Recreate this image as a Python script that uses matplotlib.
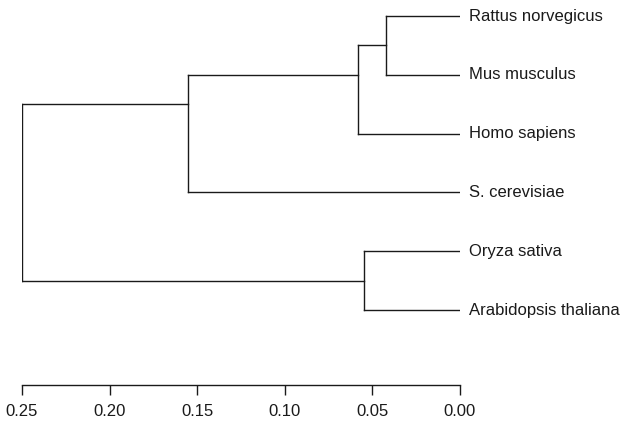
import matplotlib
matplotlib.use("Agg")
import matplotlib.pyplot as plt

# Data
leaves = ["Rattus norvegicus", "Mus musculus", "Homo sapiens",
          "S. cerevisiae", "Oryza sativa", "Arabidopsis thaliana"]
# merges: (child_a, child_b, height); leaves are 0..5, internal nodes numbered from 6
merge_a = [0, 6, 7, 4, 8]
merge_b = [1, 2, 3, 5, 9]
merge_h = [0.0422, 0.0582, 0.1554, 0.0548, 0.25]
xticks = [0.25, 0.20, 0.15, 0.10, 0.05, 0.00]
xtick_labels = ["0.25", "0.20", "0.15", "0.10", "0.05", "0.00"]

plt.rcParams['font.family'] = ['Liberation Sans', 'DejaVu Sans']

W, H = 634, 429
fig = plt.figure(figsize=(W / 100, H / 100), dpi=100)
ax_left = 22 / W
ax_right = 460 / W
ax_bottom = (H - 385) / H
ax_top = 1.0
ax = fig.add_axes([ax_left, ax_bottom, ax_right - ax_left, ax_top - ax_bottom])

col = '#1a1a1a'
lw = 1.0

# positions
xpos = {}
ypos = {}
tips = {}
for i, name in enumerate(leaves):
    xpos[i] = 0.0
    ypos[i] = i + 1
    tips[i] = [i + 1]

n = len(leaves)
for k, (a, b, h) in enumerate(zip(merge_a, merge_b, merge_h)):
    node = n + k
    tips[node] = tips[a] + tips[b]
    xpos[node] = h
    ypos[node] = sum(tips[node]) / len(tips[node])
    # vertical connector
    ax.plot([h, h], [ypos[a], ypos[b]], color=col, lw=lw, solid_capstyle='projecting')
    # horizontal branches
    for c in (a, b):
        ax.plot([xpos[c], h], [ypos[c], ypos[c]], color=col, lw=lw, solid_capstyle='projecting')

for i, name in enumerate(leaves):
    ax.annotate(name, xy=(0.0, i + 1), xytext=(6.5, 0), textcoords='offset points',
                ha='left', va='center', fontsize=12, color=col, annotation_clip=False)

sp = 58.8
y_top = 1 - 16 / sp
y_bot = 1 + (385 - 16) / sp
ax.set_ylim(y_bot, y_top)
ax.set_xlim(0.25, 0.0)

for s in ['top', 'right', 'left']:
    ax.spines[s].set_visible(False)
ax.spines['bottom'].set_bounds(0.25, 0.0)
ax.spines['bottom'].set_color(col)
ax.spines['bottom'].set_linewidth(lw)
ax.set_yticks([])
ax.set_xticks(xticks)
ax.set_xticklabels(xtick_labels)
ax.tick_params(axis='x', direction='out', length=7.5, width=lw, color=col,
               labelsize=12, labelcolor=col, pad=6)

fig.savefig("out.png", dpi=100)
